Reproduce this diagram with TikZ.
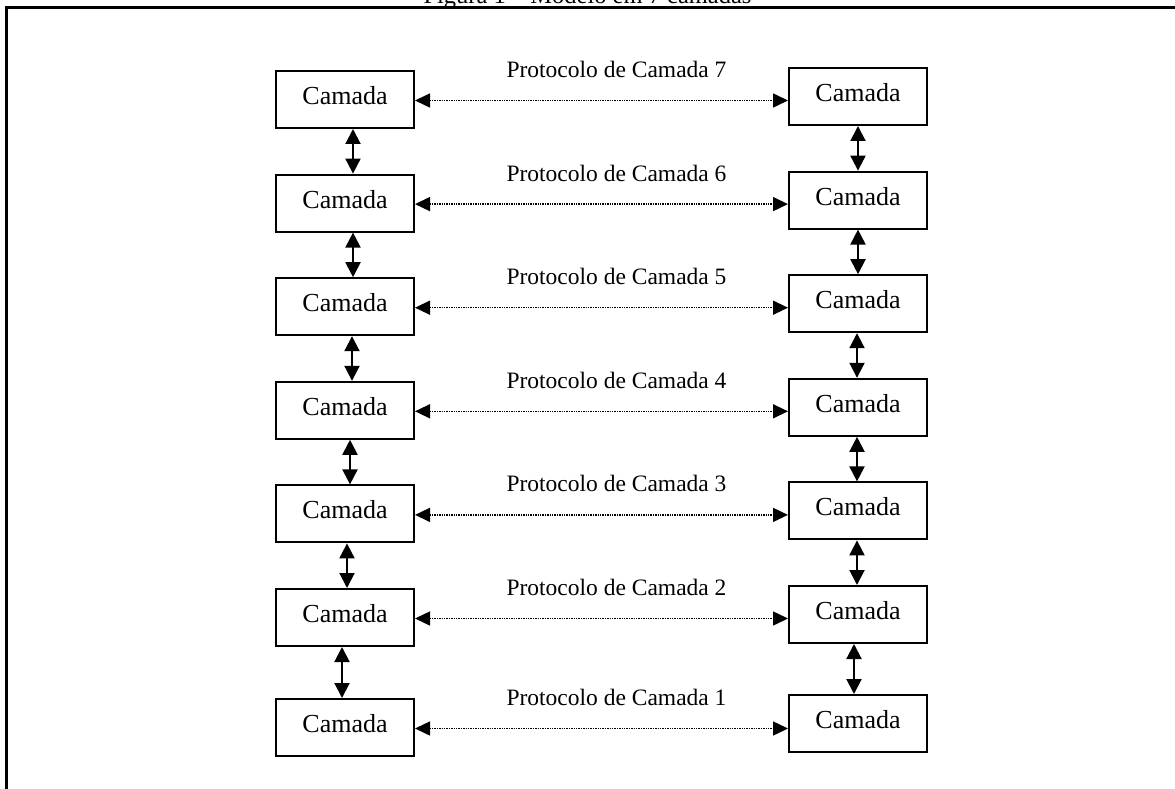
\documentclass[tikz,border=0pt]{standalone}
\usepackage{fontspec}
\setmainfont{Liberation Serif}
\usetikzlibrary{arrows.meta,calc}
\begin{document}
\begin{tikzpicture}[x=1pt,y=-1pt,
  layer/.style={draw, line width=2pt, minimum width=138pt, minimum height=57pt,
    inner sep=0pt, text height=17pt, text depth=7pt,
    font=\fontsize{26}{30}\selectfont},
  peer/.style={line width=1.5pt, dash pattern=on 1.3pt off 1.1pt,
    {Triangle[length=15pt,width=14pt]}-{Triangle[length=15pt,width=14pt]}},
  stack/.style={line width=2pt,
    {Triangle[length=15pt,width=15pt]}-{Triangle[length=15pt,width=15pt]}},
  plabel/.style={anchor=base, inner sep=0pt, font=\fontsize{23.5}{28}\selectfont},
  frame/.style={line width=2.5pt}]

\useasboundingbox (0,0) rectangle (1175,789);

% outer frame and caption
\draw[frame] (6.5,1000) -- (6.5,7.5) -- (1300,7.5);
\node[anchor=base, inner sep=0pt, font=\fontsize{24.5}{29}\selectfont] (title)
  at (587.5,4) {Figura 1 – Modelo em 7 camadas};

% the two stacks of layers
\foreach \n/\ly/\ry in {1/99.5/96.5, 2/203.1/200.1, 3/306.7/303.7, 4/410.3/407.3,
                        5/513.9/510.9, 6/617.5/614.5, 7/727.5/723.5} {
  \node[layer] (l\n) at (345,\ly) {Camada};
  \node[layer] (r\n) at (858,\ry) {Camada};
}

% peer protocols between matching layers
\foreach \n/\k in {1/7, 2/6, 3/5, 4/4, 5/3, 6/2, 7/1} {
  \coordinate (p\n) at ([yshift=-1pt]l\n.east);
  \draw[peer] (p\n) -- (r\n.west |- p\n);
  \node[plabel] (t\n) at ($(p\n)+(201.5,-23)$) {Protocolo de Camada \k};
}

% interfaces between adjacent layers
\foreach \a/\b/\dl/\dr in {1/2/8/0, 2/3/8/0, 3/4/7/-1, 4/5/5/-1, 5/6/2/-1, 6/7/-3/-4} {
  \draw[stack] ([xshift=\dl pt]l\a.south) -- ([xshift=\dl pt]l\b.north);
  \draw[stack] ([xshift=\dr pt]r\a.south) -- ([xshift=\dr pt]r\b.north);
}
\end{tikzpicture}
\end{document}
